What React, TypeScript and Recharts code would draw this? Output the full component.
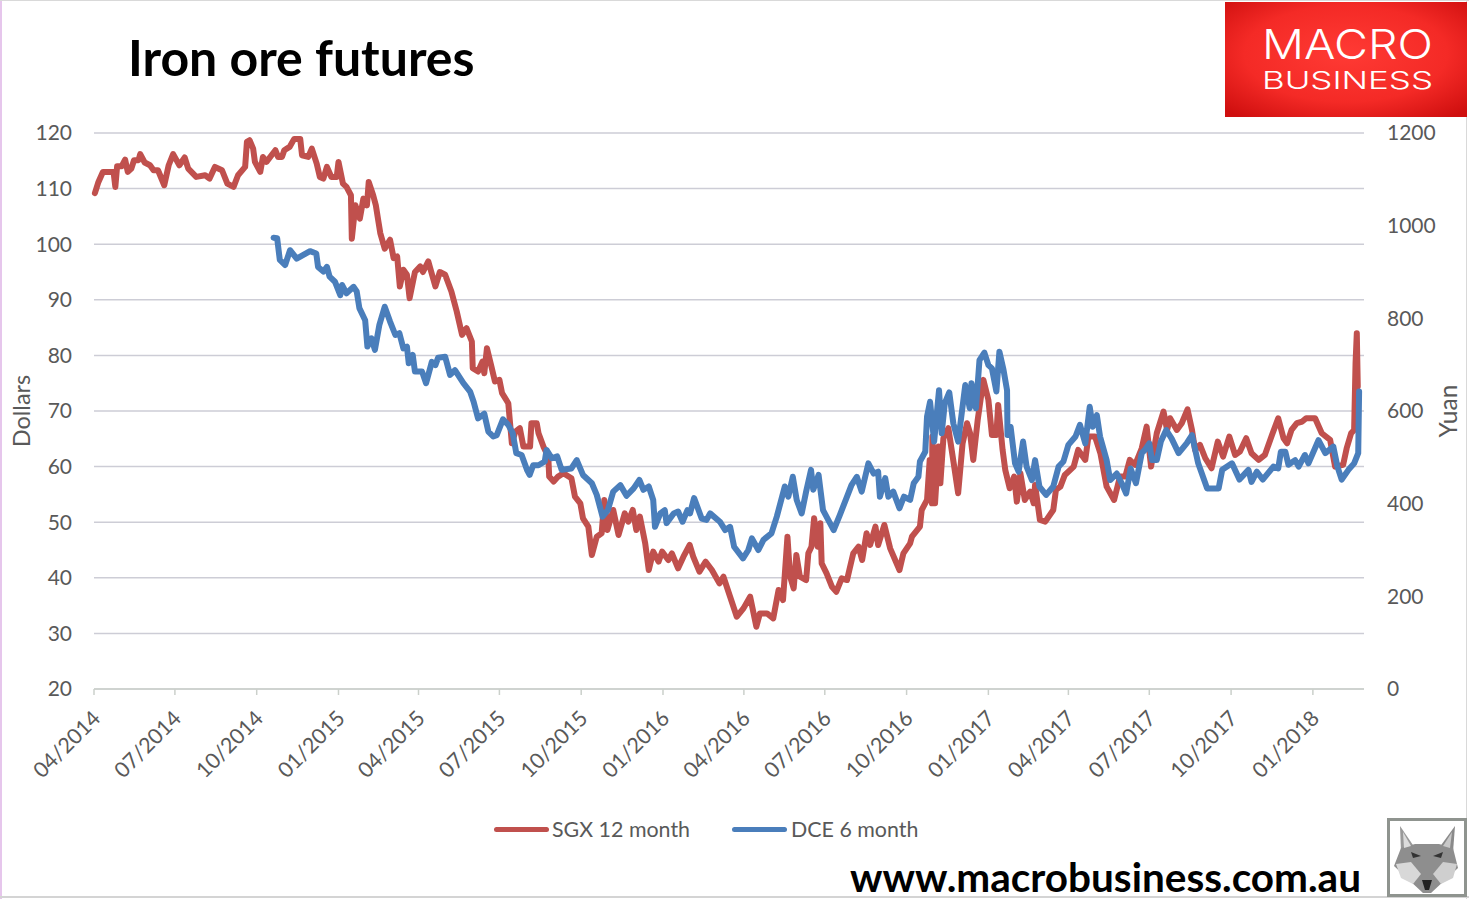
import React from "react";
import { LineChart, Line, XAxis, YAxis, CartesianGrid, Legend } from "recharts";

const tickDays = [0, 91, 183, 275, 365, 456, 548, 640, 731, 822, 914, 1006, 1096, 1187, 1279, 1371];
const tickLabels = ["04/2014","07/2014","10/2014","01/2015","04/2015","07/2015","10/2015","01/2016","04/2016","07/2016","10/2016","01/2017","04/2017","07/2017","10/2017","01/2018"];
const dollarTicks = [20,30,40,50,60,70,80,90,100,110,120];
const yuanTicks = [0,200,400,600,800,1000,1200];

const sgxPoints: [number, number][] = [
[1,109.2],[5,111.2],[10,113],[22,113],[24,110.3],[26,114],[31,114],[35,115.2],[38,113],[42,113.6],[45,115.1],[50,115.1],[52,116.2],[57,114.7],[63,114.2],[67,113.3],[72,113.3],[79,110.6],[84,114.2],[89,116.2],[96,114.2],[102,115.6],[106,113.6],[115,112.1],[125,112.4],[130,111.8],[136,113.9],[144,113.3],[150,110.9],[157,110.3],[162,112.4],[170,113.9],[172,118.4],[175,118.7],[179,117.2],[181,114.8],[187,113],[190,115.7],[194,114.8],[204,116.9],[207,115.7],[211.5,115.7],[214,116.9],[220,117.5],[225,118.9],[232,118.9],[234,116],[241,115.7],[245,117.2],[250.5,114.5],[254,112.1],[258,111.8],[262,113.9],[267,112.1],[273,112.1],[275,114.8],[280,110.9],[284,110.3],[289,108.8],[290,101],[294,107],[299,104.6],[303,108.2],[307,107],[309,111.2],[314,108.8],[317,107],[320,104],[322,102],[327,99.2],[333,100.8],[337,97.5],[341,97.8],[344,92.4],[348,95.4],[352,94.5],[355,90.3],[361,95],[367,96],[370,95],[376,96.9],[384,92.4],[389,95],[395,94.5],[402,91.5],[408,87.9],[414,83.7],[419,84.9],[425,82.5],[426,77.7],[432,77.1],[437,78.9],[439,76.8],[442,81.3],[447,78],[451,75.3],[456,75.6],[459,73.2],[466,71.4],[470,64.2],[474,66.3],[479,66.9],[483,63.6],[490.5,63.6],[492,67.8],[498,67.8],[500,66],[505.5,63.6],[511,61.8],[512,58.2],[517,57.3],[522,58.2],[528,58.8],[537,57.9],[541,54.6],[547,53.4],[550,50.7],[556,49.2],[560,44.1],[565.5,47.4],[571,48],[574,54],[577.5,48.6],[584,52.2],[590,47.7],[597,51.6],[601,50.1],[606,52.2],[610,48.6],[614,51],[620,46.2],[624,41.4],[629,44.7],[635,42.9],[639,44.7],[646,43.2],[650,44.4],[657,41.7],[663,43.8],[670,45.9],[674,43.8],[681,41.1],[688,42.9],[695,41.4],[703.5,39],[708,40.2],[715.5,36.6],[723,33],[730.5,34.5],[738,36.6],[745,31.2],[749,33.6],[757,33.6],[764,32.7],[770,37.8],[775,36],[780,47.4],[783,40.2],[787,38.1],[790,44.1],[794,40.2],[801,39.6],[803.5,44.4],[807,45.6],[810,50.7],[814,45.6],[817,49.8],[818.5,42.6],[824,40.8],[830,38.4],[835,37.5],[841,39.9],[847,39.6],[854,44.4],[860,45.6],[864,43.2],[869,48],[873,45.9],[879,49.2],[882,45.9],[889,49.5],[895.5,45.3],[906,41.4],[910.4,44.4],[918,46.2],[920,47.4],[929,49.2],[931,52.2],[937,54],[940,61.2],[942.5,53.4],[943,65.4],[946,53.4],[950,63.6],[952,57],[955.4,65.1],[961,66.9],[967,60.6],[972,55.2],[977,64.2],[982,67.8],[985.4,66],[989,61.2],[994,68.4],[1000.4,75.6],[1006,72],[1010,65.7],[1015,65.7],[1017,71.1],[1022,63],[1025,59.4],[1030,56.1],[1035,58.2],[1038,53.7],[1042,58.8],[1047,54],[1053,55.5],[1057,53.4],[1058.5,56.7],[1064,50.4],[1070,50.1],[1079,52.2],[1082,55.8],[1087,56.4],[1092,58.5],[1102,60],[1107,63],[1115,61.2],[1118.5,65.4],[1126,65.4],[1132,62.4],[1139,56.4],[1147.4,54],[1154,58.2],[1160,58.2],[1165,61.2],[1171,60.3],[1178.5,63.3],[1184,67.2],[1189,60],[1195.4,66],[1203,69.9],[1207,66.6],[1210.4,68.7],[1218,66.6],[1223.5,67.8],[1230,70.3],[1235,66.6],[1238.5,63],[1244,63.9],[1250,61.5],[1257,59.7],[1264,64.5],[1270,61.8],[1277,65.4],[1283.5,62.1],[1289,62.7],[1296,65.1],[1302,62.4],[1310,61.2],[1317,62.1],[1325,65.7],[1332,68.7],[1338,65.1],[1342,64.2],[1347,66.6],[1353,67.8],[1359,68.1],[1363.4,68.7],[1373.5,68.7],[1381,66],[1390.4,64.8],[1396,60],[1405,60.3],[1409,63.3],[1414,66],[1417.4,66.6],[1419,78.6],[1420.4,84],[1421.5,74.4]
];

const dcePoints: [number, number][] = [
[202,974],[206,973],[209,926],[215,915],[220.5,947],[228,929],[235.5,937],[243,945],[250,940],[252,911],[258,901],[262,911],[265,890],[271,879],[277,850],[279,872],[284,854],[292,868],[295.5,858],[298.5,822],[305,796],[307.5,739],[312,757],[316,732],[321,786],[327,825],[333,793],[339,764],[343.5,768],[348,735],[352,739],[354,703],[358.5,721],[361,685],[369,685],[373.5,660],[380,706],[384,699],[387,715],[395,717],[400.5,678],[406,688],[415.5,660],[423,642],[427,620],[432,584],[439,594],[443.6,555.5],[449,545],[453,548],[460,582],[466,570],[471,552],[475,509],[481,505],[487,473],[490,462],[494,483],[500,483],[507,491],[509,516],[515,498],[521,502],[526,473],[537,476],[543,494],[550,462],[560,444],[565.5,419],[572,372],[578,386],[584,426],[592,440],[599,417],[607,433],[613.4,451],[618,430],[624,437],[629,408],[631,350],[637,379],[642,386],[644,358],[652,379],[657,383],[662,361],[667.5,386],[670.4,379],[675,412],[683.5,368],[689,365],[693,379],[704,361],[710,343],[715.5,350],[720,307],[730,282],[736,300],[740,325],[747.3,300],[753,322],[762,336],[768,372],[777,437],[781,415],[786,458],[790.4,408],[796,379],[801,426],[806.5,473],[809,430],[815,462],[820,386],[832,343],[839,376],[847,415],[852,440],[858,458],[863.5,426],[871,487],[877,465],[882,469],[884,415],[890,455],[893.5,415],[899,426],[906,390],[911,415],[918,408],[922,444],[927.3,458],[929,491],[935,512],[937,588],[940.4,620],[945,534],[950.5,645],[953.5,552],[957,617],[962,640],[966.6,573],[972,534],[980,656],[985,606],[987,660],[992,606],[996,710],[1001.5,726],[1006,699],[1010,692],[1015,642],[1018.4,728],[1023,689],[1027,645],[1027.5,548],[1031,566],[1036,487],[1040,469],[1045,534],[1049,480],[1055,451],[1058.5,494],[1063.4,437],[1071,419],[1079,437],[1085,480],[1090.4,491],[1096,527],[1104,545],[1109,570],[1115,530],[1120,609],[1123.4,566],[1128,591],[1131.6,545],[1139,494],[1143,451],[1150.4,465],[1156,444],[1161,422],[1166,476],[1172,444],[1178.5,509],[1182,516],[1187,530],[1190,494],[1195.4,494],[1200,534],[1206,559],[1212,541],[1220,509],[1229,530],[1235,548],[1242,487],[1250,444],[1252,433],[1261,433],[1265,433],[1269,473],[1280,487],[1288.4,452],[1298.5,473],[1302,447],[1308,469],[1314.6,452],[1326.6,480],[1332,476],[1335,512],[1340,512],[1343.5,484],[1351,494],[1355,480],[1362,505],[1366,487],[1377.3,537],[1385,509],[1394,523],[1398.6,480],[1403.4,452],[1411,473],[1417.4,487],[1422,509],[1423,642]
];

const sgxData = sgxPoints.map(([day, price]) => ({ day, price }));
const dceData = dcePoints.map(([day, price]) => ({ day, price }));

const RED = "#C0504D";
const BLUE = "#4A7EBB";
const GREY = "#595959";
const FONT = "Lato, 'Open Sans', sans-serif";

const LegendContent = () => (
  <div style={{ position: "relative", width: 440, height: 30, fontFamily: FONT, fontSize: 21.4, color: GREY }}>
    <div style={{ position: "absolute", left: 0, top: 13, width: 55, height: 5, borderRadius: 3, background: RED }} />
    <div style={{ position: "absolute", left: 58, top: 2, whiteSpace: "nowrap" }}>SGX 12 month</div>
    <div style={{ position: "absolute", left: 238, top: 13, width: 55, height: 5, borderRadius: 3, background: BLUE }} />
    <div style={{ position: "absolute", left: 297, top: 2, whiteSpace: "nowrap" }}>DCE 6 month</div>
  </div>
);

const Logo = () => (
  <svg width={242} height={115} style={{ position: "absolute", left: 1225, top: 2 }}>
    <defs>
      <radialGradient id="logoRed" cx="50%" cy="45%" r="70%">
        <stop offset="0%" stopColor="#FF3A34" />
        <stop offset="60%" stopColor="#F42A26" />
        <stop offset="100%" stopColor="#CF0F0F" />
      </radialGradient>
    </defs>
    <rect width={242} height={115} fill="url(#logoRed)" />
    <text x={37} y={57} fontFamily="Inter, 'Liberation Sans', sans-serif" fontWeight={300} fontSize={41} fill="#fff" textLength={171} lengthAdjust="spacingAndGlyphs">MACRO</text>
    <text x={37} y={87} fontFamily="Inter, 'Liberation Sans', sans-serif" fontWeight={300} fontSize={24} fill="#fff" textLength={171} lengthAdjust="spacingAndGlyphs">BUSINESS</text>
  </svg>
);

const Fox = () => (
  <svg width={80} height={79} viewBox="0 0 80 79" style={{ position: "absolute", left: 1387, top: 818 }}>
    <rect x={1.5} y={1.5} width={77} height={76} fill="#fff" stroke="#8f948f" strokeWidth={3} />
    <polygon points="13,8 28,30 14,34" fill="#9a9a9a" />
    <polygon points="68,8 52,30 66,34" fill="#8a8a8a" />
    <polygon points="14,30 28,26 52,26 66,30 71,50 58,62 44,75 36,75 22,62 7,48" fill="#8e8e8e" />
    <polygon points="9,46 24,44 34,56 26,66 14,60" fill="#d8d8d8" />
    <polygon points="70,46 56,44 46,56 54,66 66,60" fill="#cfcfcf" />
    <polygon points="24,34 34,38 26,40" fill="#333" />
    <polygon points="56,34 46,38 54,40" fill="#333" />
    <polygon points="35,62 45,62 42,72 38,72" fill="#222" />
    <polygon points="16,14 24,28 17,30" fill="#dcdcdc" />
    <polygon points="65,14 56,28 63,30" fill="#c8c8c8" />
  </svg>
);

export default function App() {
  return (
    <div style={{ position: "absolute", left: 0, top: 0, width: 1469, height: 899, background: "#fff", overflow: "hidden" }}>
      <LineChart width={1469} height={899} margin={{ top: 133, right: 45, bottom: 130, left: 34 }}>
        <CartesianGrid yAxisId="left" xAxisId={0} horizontal vertical={false} stroke="#CDCDD6" strokeWidth={1.5} />
        <XAxis
          type="number"
          dataKey="day"
          domain={[0, 1428.5]}
          ticks={tickDays}
          interval={0}
          height={80}
          tickFormatter={(_v: number, i: number) => tickLabels[i]}
          stroke="#CBD0CB"
          strokeWidth={1.5}
          tickSize={6}
          tickMargin={14}
          angle={-45}
          textAnchor="end"
          tick={{ fill: GREY, fontSize: 21.4, fontFamily: FONT, dx: -3 }}
        />
        <YAxis
          yAxisId="left"
          orientation="left"
          width={60}
          domain={[20, 120]}
          ticks={dollarTicks}
          interval={0}
          axisLine={false}
          tickLine={false}
          tickSize={0}
          tickMargin={22}
          tick={{ fill: GREY, fontSize: 21, fontFamily: FONT }}
          label={{ value: "Dollars", angle: -90, position: "insideLeft", offset: -12, style: { fill: GREY, fontSize: 23.5, fontFamily: FONT, textAnchor: "middle" } }}
        />
        <YAxis
          yAxisId="right"
          orientation="right"
          width={60}
          domain={[0, 1200]}
          ticks={yuanTicks}
          interval={0}
          axisLine={false}
          tickLine={false}
          tickSize={0}
          tickMargin={23}
          tick={{ fill: GREY, fontSize: 21, fontFamily: FONT, textAnchor: "start" }}
          label={{ value: "Yuan", angle: -90, position: "insideRight", offset: -24, style: { fill: GREY, fontSize: 24.5, fontFamily: FONT, textAnchor: "middle" } }}
        />
        <Line yAxisId="left" data={sgxData} dataKey="price" name="SGX 12 month" type="linear" stroke={RED} strokeWidth={6} strokeLinejoin="round" strokeLinecap="round" dot={false} isAnimationActive={false} />
        <Line yAxisId="right" data={dceData} dataKey="price" name="DCE 6 month" type="linear" stroke={BLUE} strokeWidth={6} strokeLinejoin="round" strokeLinecap="round" dot={false} isAnimationActive={false} />
        <Legend layout="horizontal" verticalAlign="middle" align="center" content={<LegendContent />} wrapperStyle={{ left: 494, top: 814, width: 440, height: 30 }} />
      </LineChart>

      <div style={{ position: "absolute", left: 0, top: 0, width: 2, height: 899, background: "#E6C6EC" }} />
      <div style={{ position: "absolute", left: 0, top: 0, width: 1469, height: 1, background: "#D9D9D9" }} />
      <div style={{ position: "absolute", left: 0, top: 896, width: 1469, height: 2, background: "#D4D4D4" }} />
      <div style={{ position: "absolute", left: 1466, top: 0, width: 1, height: 899, background: "#D9D9D9" }} />

      <div style={{ position: "absolute", left: 128, top: 27, fontFamily: FONT, fontWeight: 700, fontSize: 50, color: "#000", whiteSpace: "nowrap" }}>Iron ore futures</div>
      <div style={{ position: "absolute", left: 850, top: 857, lineHeight: "40px", fontFamily: FONT, fontWeight: 700, fontSize: 40.5, color: "#000", whiteSpace: "nowrap" }}>www.macrobusiness.com.au</div>
      <Logo />
      <Fox />
    </div>
  );
}
